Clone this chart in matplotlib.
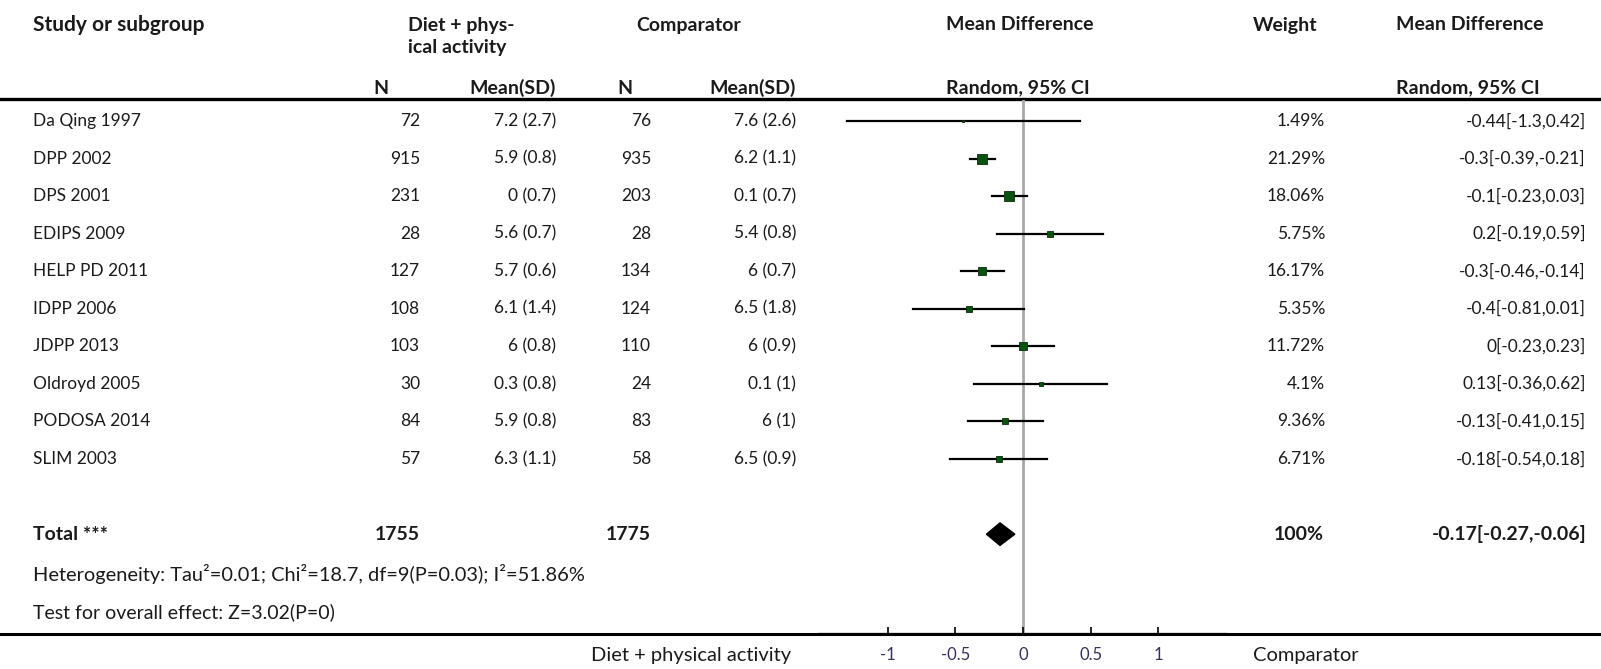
import matplotlib
matplotlib.use("Agg")
import matplotlib.pyplot as plt
from matplotlib.lines import Line2D

plt.rcParams['font.family'] = ['Lato', 'DejaVu Sans']

# --- data ---
studies = ["Da Qing 1997", "DPP 2002", "DPS 2001", "EDIPS 2009", "HELP PD 2011",
           "IDPP 2006", "JDPP 2013", "Oldroyd 2005", "PODOSA 2014", "SLIM 2003"]
n_int = [72, 915, 231, 28, 127, 108, 103, 30, 84, 57]
mean_int = [7.2, 5.9, 0, 5.6, 5.7, 6.1, 6, 0.3, 5.9, 6.3]
sd_int = [2.7, 0.8, 0.7, 0.7, 0.6, 1.4, 0.8, 0.8, 0.8, 1.1]
n_cmp = [76, 935, 203, 28, 134, 124, 110, 24, 83, 58]
mean_cmp = [7.6, 6.2, 0.1, 5.4, 6, 6.5, 6, 0.1, 6, 6.5]
sd_cmp = [2.6, 1.1, 0.7, 0.8, 0.7, 1.8, 0.9, 1, 1, 0.9]
weights = [1.49, 21.29, 18.06, 5.75, 16.17, 5.35, 11.72, 4.1, 9.36, 6.71]
md = [-0.44, -0.3, -0.1, 0.2, -0.3, -0.4, 0, 0.13, -0.13, -0.18]
ci_lo = [-1.3, -0.39, -0.23, -0.19, -0.46, -0.81, -0.23, -0.36, -0.41, -0.54]
ci_hi = [0.42, -0.21, 0.03, 0.59, -0.14, 0.01, 0.23, 0.62, 0.15, 0.18]

total_n_int = 1755
total_n_cmp = 1775
total_md = -0.17
total_lo = -0.27
total_hi = -0.06
heterogeneity = "Heterogeneity: Tau\u00b2=0.01; Chi\u00b2=18.7, df=9(P=0.03); I\u00b2=51.86%"
overall = "Test for overall effect: Z=3.02(P=0)"
xticks = [-1, -0.5, 0, 0.5, 1]

# --- layout (pixels) ---
W, H = 1601, 669
ROW0, DY = 121, 37.56
TOP, BOT = 100, 634
PLOT_L, PLOT_R = 820, 1226
FS = 12.5
FSB = 14
TXT = '#1a1a1a'

fig = plt.figure(figsize=(W / 100, H / 100), dpi=100)
tab = fig.add_axes([0, 0, 1, 1])
tab.set_xlim(0, W)
tab.set_ylim(H, 0)
tab.axis('off')


def row_y(i):
    return ROW0 + i * DY


def put(x, y, s, ha='left', bold=False, size=None, color=TXT):
    if size is None:
        size = FSB if bold else FS
    tab.text(x, y, s, ha=ha, va='center', fontsize=size, color=color,
             fontweight='bold' if bold else 'normal')


# header
put(33, 25, "Study or subgroup", bold=True, size=15)
put(408, 25, "Diet + phys-", bold=True)
put(408, 48, "ical activity", bold=True)
put(636, 25, "Comparator", bold=True)
put(946, 25, "Mean Difference", bold=True)
put(1253, 25, "Weight", bold=True)
put(1396, 25, "Mean Difference", bold=True)
put(381, 88, "N", ha='center', bold=True)
put(556, 88, "Mean(SD)", ha='right', bold=True)
put(625, 88, "N", ha='center', bold=True)
put(796, 88, "Mean(SD)", ha='right', bold=True)
put(946, 88, "Random, 95% CI", bold=True)
put(1396, 88, "Random, 95% CI", bold=True)

tab.add_line(Line2D([0, W], [TOP - 1, TOP - 1], color='black', lw=2.4))

# study rows
for i, name in enumerate(studies):
    y = row_y(i)
    put(33, y, name)
    put(420, y, f"{n_int[i]}", ha='right')
    put(556, y, f"{mean_int[i]:g} ({sd_int[i]:g})", ha='right')
    put(651, y, f"{n_cmp[i]}", ha='right')
    put(796, y, f"{mean_cmp[i]:g} ({sd_cmp[i]:g})", ha='right')
    put(1325, y, f"{weights[i]:g}%", ha='right')
    put(1586, y, f"{md[i]:g}[{ci_lo[i]:g},{ci_hi[i]:g}]", ha='right')

# total + footnotes
n_rows = len(studies)
yt = row_y(n_rows + 1)
put(33, yt, "Total ***", bold=True)
put(420, yt, f"{total_n_int}", ha='right', bold=True)
put(651, yt, f"{total_n_cmp}", ha='right', bold=True)
put(1324, yt, f"{sum(weights):.0f}%", ha='right', bold=True)
put(1587, yt, f"{total_md:g}[{total_lo:g},{total_hi:g}]", ha='right', bold=True)
put(33, row_y(n_rows + 2) + 2, heterogeneity, size=14.4)
put(33, row_y(n_rows + 3) + 3, overall, size=14)

tab.add_line(Line2D([0, W], [BOT, BOT], color='black', lw=2.2))
put(791, 655, "Diet + physical activity", ha='right', size=14.5)
put(1253, 655, "Comparator", size=14.5)

# --- forest plot ---
ax = fig.add_axes([PLOT_L / W, (H - BOT) / H, (PLOT_R - PLOT_L) / W, (BOT - TOP) / H])
ax.set_xlim(-1.5, 1.5)
ax.set_ylim((BOT - ROW0) / DY, -(ROW0 - TOP) / DY)
ax.patch.set_alpha(0)
for side in ['top', 'left', 'right']:
    ax.spines[side].set_visible(False)
ax.spines['bottom'].set_linewidth(1.6)
ax.set_yticks([])
ax.axvline(0, color='#a8a8a8', lw=2, zorder=1)

wmax = max(weights)
for i in range(n_rows):
    ax.plot([ci_lo[i], ci_hi[i]], [i, i], color='black', lw=1.6, zorder=2)
    side = max(7.2 * (weights[i] / wmax) ** 0.5, 1.8)
    ax.plot(md[i], i, marker='s', ms=side, color='#0a520f', mec='#0a2e0a',
            mew=0.6, zorder=3)

ax.fill([total_lo, total_md, total_hi, total_md],
        [n_rows + 1, n_rows + 1 - 0.3, n_rows + 1, n_rows + 1 + 0.3],
        color='black', zorder=3)

ax.set_xticks(xticks)
ax.set_xticklabels([f"{t:g}" for t in xticks])
ax.tick_params(axis='x', direction='in', length=5, width=1.2, pad=9,
               labelsize=12, labelcolor='#3b2f5a')

fig.savefig("out.png", dpi=100)
